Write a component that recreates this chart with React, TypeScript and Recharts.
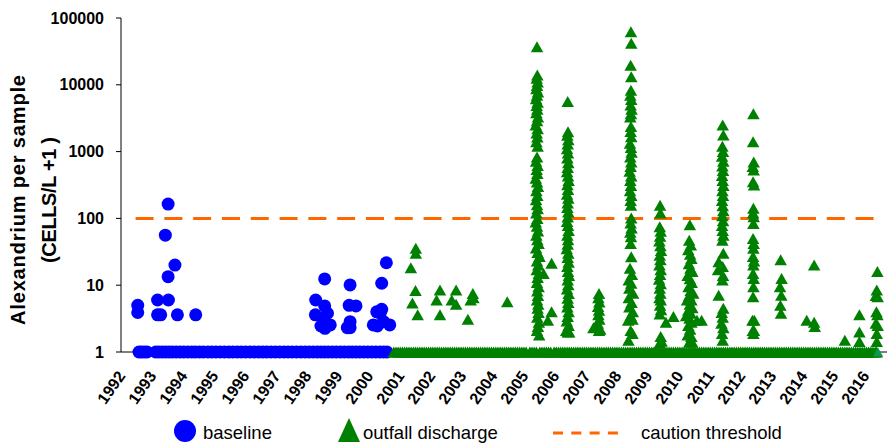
import React from 'react';
import { ScatterChart, Scatter, XAxis, YAxis, ReferenceLine } from 'recharts';

const FONT = '"Liberation Sans", Arial, Helvetica, sans-serif';
const BLUE = '#0000FF';
const GREEN = '#008000';
const TEAL = '#0A9A50';
const ORANGE = '#FF6600';

const yearTicks = [1992, 1993, 1994, 1995, 1996, 1997, 1998, 1999, 2000, 2001, 2002, 2003, 2004, 2005, 2006, 2007, 2008, 2009, 2010, 2011, 2012, 2013, 2014, 2015, 2016];
const valueTicks = [1, 10, 100, 1000, 10000, 100000];
const cautionThreshold = 100;
const cautionSpan = [1992.47, 2016.43];

// sampling dates with no cells detected (value 1 = 0 cells/L + 1)
const baselineZeroDates = [1992.58, 1992.66, 1992.75, 1992.84, 1993.12, 1993.22, 1993.33, 1993.44, 1993.55, 1993.66, 1993.78, 1993.9, 1994.02, 1994.15, 1994.28, 1994.4, 1994.53, 1994.66, 1994.8, 1994.93, 1995.06, 1995.2, 1995.34, 1995.48, 1995.61, 1995.75, 1995.88, 1996.02, 1996.16, 1996.3, 1996.44, 1996.57, 1996.7, 1996.84, 1996.98, 1997.12, 1997.26, 1997.39, 1997.52, 1997.66, 1997.8, 1997.94, 1998.07, 1998.2, 1998.33, 1998.45, 1998.57, 1998.69, 1998.82, 1998.95, 1999.08, 1999.21, 1999.34, 1999.46, 1999.58, 1999.7, 1999.83, 1999.96, 2000.09, 2000.22, 2000.35, 2000.47, 2000.58];

const baselineDetections: [number, number][] = [
  [1992.54, 5.0], [1992.54, 3.9], [1993.18, 6.0], [1993.53, 6.0], [1993.28, 3.6], [1993.18, 3.6], [1993.82, 3.6], [1994.41, 3.6],
  [1993.43, 56], [1993.52, 164], [1993.52, 13.4], [1993.74, 20],
  [1998.28, 6.0], [1998.57, 12.4], [1998.57, 4.9], [1998.27, 3.6], [1998.66, 3.8], [1998.53, 3.0], [1998.58, 2.26], [1998.75, 2.54], [1998.45, 2.45],
  [1999.39, 10.1], [1999.36, 5.0], [1999.58, 4.9], [1999.39, 2.84], [1999.3, 2.31], [1999.39, 2.31],
  [2000.41, 10.7], [2000.56, 21.7], [2000.25, 4.0], [2000.41, 4.36], [2000.36, 3.8], [2000.14, 2.54], [2000.27, 2.45], [2000.47, 2.84], [2000.67, 2.54],
];

const outfallZeroDates = [
  2000.8, 2000.87, 2000.94, 2001.01, 2001.08, 2001.15, 2001.22, 2001.29, 2001.36, 2001.43, 2001.5, 2001.57, 2001.64, 2001.71, 2001.78, 2001.85, 2001.92, 2001.99,
  2002.06, 2002.13, 2002.2, 2002.27, 2002.34, 2002.41, 2002.48, 2002.55, 2002.62, 2002.69, 2002.76, 2002.83, 2002.9, 2002.97,
  2003.04, 2003.11, 2003.18, 2003.25, 2003.32, 2003.39, 2003.46, 2003.53, 2003.6, 2003.67, 2003.74, 2003.81, 2003.88, 2003.95,
  2004.02, 2004.09, 2004.16, 2004.23, 2004.3, 2004.37, 2004.44, 2004.51, 2004.58, 2004.65, 2004.72, 2004.79, 2004.86, 2004.93,
  2005.0, 2005.07, 2005.19, 2005.26, 2005.33, 2005.4, 2005.51, 2005.58, 2005.65, 2005.72, 2005.79, 2005.86, 2005.97,
  2006.04, 2006.11, 2006.18, 2006.25, 2006.32, 2006.39, 2006.46, 2006.53, 2006.6, 2006.67, 2006.74, 2006.81, 2006.88, 2006.95,
  2007.02, 2007.09, 2007.16, 2007.23, 2007.3, 2007.37, 2007.44, 2007.51, 2007.58, 2007.65, 2007.72, 2007.79, 2007.86, 2007.93,
  2008.0, 2008.07, 2008.14, 2008.21, 2008.28, 2008.35, 2008.42, 2008.49, 2008.56, 2008.63, 2008.7, 2008.77, 2008.84, 2008.91, 2008.98,
  2009.05, 2009.12, 2009.19, 2009.26, 2009.33, 2009.4, 2009.47, 2009.54, 2009.61, 2009.68, 2009.75, 2009.82, 2009.89, 2009.96,
  2010.03, 2010.1, 2010.17, 2010.24, 2010.31, 2010.38, 2010.45, 2010.52, 2010.59, 2010.66, 2010.73, 2010.8, 2010.87, 2010.94,
  2011.01, 2011.08, 2011.15, 2011.22, 2011.29, 2011.36, 2011.43, 2011.5, 2011.57, 2011.64, 2011.71, 2011.78, 2011.85, 2011.92, 2011.99,
  2012.06, 2012.13, 2012.2, 2012.27, 2012.34, 2012.41, 2012.48, 2012.55, 2012.62, 2012.69, 2012.76, 2012.83, 2012.9, 2012.97,
  2013.04, 2013.11, 2013.18, 2013.25, 2013.32, 2013.39, 2013.46, 2013.53, 2013.6, 2013.67, 2013.74, 2013.81, 2013.88, 2013.95,
  2014.02, 2014.09, 2014.16, 2014.23, 2014.3, 2014.37, 2014.44, 2014.51, 2014.58, 2014.65, 2014.72, 2014.79, 2014.86, 2014.93,
  2015.0, 2015.07, 2015.14, 2015.21, 2015.28, 2015.35, 2015.42, 2015.49, 2015.56, 2015.63, 2015.7, 2015.77, 2015.84, 2015.91, 2015.98,
  2016.05, 2016.12, 2016.19, 2016.26, 2016.33, 2016.38,
];

const outfallEarly: [number, number][] = [
  [2001.51, 35.7], [2001.51, 30], [2001.35, 18.3], [2001.5, 8.3], [2001.4, 5.4], [2001.57, 3.6],
  [2002.29, 8.5], [2002.18, 6.0], [2002.29, 3.6], [2002.81, 8.5], [2002.67, 6.0], [2002.81, 5.2],
  [2003.19, 3.09], [2003.35, 7.5], [2003.28, 6.0], [2003.37, 6.5], [2004.46, 5.66],
];

const outfall2005: [number, number][] = [
  [2005.42, 37200], [2005.43, 14000], [2005.41, 12500], [2005.44, 11000], [2005.42, 9800], [2005.4, 8700], [2005.45, 7800], [2005.42, 7000], [2005.39, 6200], [2005.44, 5500], [2005.41, 4900], [2005.43, 4300], [2005.4, 3800], [2005.45, 3300], [2005.42, 2900], [2005.38, 2500], [2005.44, 2200], [2005.41, 1900], [2005.43, 1650], [2005.4, 1400], [2005.44, 1200],
  [2005.42, 830], [2005.39, 720], [2005.44, 620], [2005.41, 540], [2005.43, 470], [2005.38, 400], [2005.42, 350], [2005.45, 300], [2005.4, 260], [2005.43, 220], [2005.39, 190], [2005.42, 160], [2005.44, 140], [2005.4, 120], [2005.43, 100], [2005.38, 88], [2005.42, 76], [2005.45, 65], [2005.4, 56], [2005.43, 48], [2005.47, 42], [2005.39, 36], [2005.44, 31], [2005.5, 27], [2005.42, 23], [2005.46, 20], [2005.41, 17], [2005.48, 15], [2005.44, 13], [2005.42, 11], [2005.47, 9.5], [2005.43, 8.2], [2005.45, 7.0], [2005.42, 6.0], [2005.46, 5.2], [2005.44, 4.5], [2005.47, 3.9], [2005.43, 3.3], [2005.48, 2.8], [2005.45, 2.4], [2005.42, 2.1], [2005.49, 1.8],
  [2005.89, 21.3], [2005.63, 15], [2005.89, 4.0], [2005.77, 3.0],
];

const outfall2006: [number, number][] = [
  [2006.41, 5600], [2006.42, 1990], [2006.4, 1750], [2006.43, 1500], [2006.41, 1300], [2006.39, 1100], [2006.42, 950], [2006.4, 800], [2006.43, 680], [2006.41, 580], [2006.39, 500], [2006.42, 430], [2006.44, 370], [2006.4, 320], [2006.42, 270], [2006.39, 230], [2006.43, 200], [2006.41, 170], [2006.4, 145], [2006.43, 125], [2006.41, 105], [2006.39, 90], [2006.42, 78], [2006.44, 66], [2006.4, 56], [2006.42, 48], [2006.41, 41], [2006.38, 35], [2006.43, 30], [2006.41, 26], [2006.44, 22], [2006.4, 19], [2006.42, 16], [2006.45, 14], [2006.41, 12], [2006.43, 10.2], [2006.39, 8.8], [2006.44, 7.5], [2006.41, 6.4], [2006.43, 5.5], [2006.4, 4.7], [2006.44, 4.0], [2006.41, 3.4], [2006.38, 2.9], [2006.44, 2.5], [2006.36, 2.1], [2006.41, 2.0], [2006.46, 2.0],
];

const outfall2007: [number, number][] = [
  [2007.42, 7.5], [2007.4, 6.5], [2007.43, 5.6], [2007.39, 4.8], [2007.42, 4.2], [2007.4, 3.6], [2007.43, 3.1], [2007.38, 2.7], [2007.24, 2.3], [2007.42, 2.1], [2007.46, 2.2],
];

const outfall2008: [number, number][] = [
  [2008.45, 62000], [2008.46, 42000], [2008.44, 19700], [2008.46, 13200], [2008.45, 8300], [2008.43, 7000], [2008.46, 6000], [2008.44, 5000], [2008.47, 4300], [2008.45, 3700], [2008.43, 3300], [2008.45, 2370], [2008.44, 2000], [2008.46, 1670], [2008.42, 1330], [2008.45, 1150], [2008.47, 980], [2008.43, 830], [2008.46, 700], [2008.44, 600], [2008.41, 510], [2008.46, 430], [2008.43, 370], [2008.45, 310], [2008.42, 260], [2008.46, 220], [2008.44, 185], [2008.45, 158],
  [2008.46, 101], [2008.44, 85], [2008.47, 72], [2008.43, 62], [2008.45, 53], [2008.44, 42], [2008.46, 26.7], [2008.42, 18], [2008.48, 14.5], [2008.38, 12], [2008.46, 10.7], [2008.4, 9.0], [2008.52, 7.6], [2008.38, 6.5], [2008.47, 5.5], [2008.4, 4.7], [2008.51, 4.0], [2008.44, 3.5], [2008.36, 3.0], [2008.5, 3.1], [2008.44, 2.1], [2008.37, 1.5], [2008.5, 1.9],
];

const outfall2009: [number, number][] = [
  [2009.39, 158], [2009.4, 120], [2009.38, 75], [2009.41, 64], [2009.39, 54], [2009.37, 46], [2009.4, 39], [2009.42, 33], [2009.38, 28], [2009.4, 24], [2009.37, 20], [2009.41, 17], [2009.39, 14.5], [2009.36, 12.3], [2009.41, 10.5], [2009.38, 9.0], [2009.4, 7.6], [2009.37, 6.5], [2009.41, 6.0], [2009.39, 5.0], [2009.42, 4.3], [2009.38, 3.7], [2009.82, 3.4], [2009.58, 2.8], [2009.41, 1.7], [2009.38, 1.36], [2009.44, 1.45],
];

const outfall2010: [number, number][] = [
  [2010.35, 80], [2010.33, 47], [2010.38, 40], [2010.3, 34], [2010.36, 29], [2010.4, 25], [2010.32, 21], [2010.37, 18], [2010.43, 16], [2010.28, 14], [2010.35, 12.5], [2010.41, 11], [2010.31, 9.5], [2010.38, 8.3], [2010.46, 7.6], [2010.33, 7.0], [2010.26, 6.0], [2010.4, 6.0], [2010.35, 5.2], [2010.43, 4.6], [2010.3, 4.2], [2010.38, 3.8], [2010.23, 3.5], [2010.34, 3.2], [2010.73, 3.0], [2010.4, 2.8], [2010.3, 2.5], [2010.36, 2.2], [2010.28, 1.8], [2010.4, 1.7], [2010.33, 1.4], [2010.43, 1.4], [2010.58, 3.0],
];

const outfall2011: [number, number][] = [
  [2011.41, 2500], [2011.43, 1770], [2011.4, 1200], [2011.42, 1000], [2011.39, 850], [2011.43, 720], [2011.4, 610], [2011.42, 520], [2011.39, 440], [2011.41, 370], [2011.43, 310], [2011.4, 260], [2011.42, 220], [2011.39, 185], [2011.41, 155], [2011.43, 130], [2011.4, 110], [2011.42, 92], [2011.39, 78], [2011.41, 66], [2011.43, 56], [2011.4, 47],
  [2011.43, 30], [2011.28, 22.4], [2011.26, 17], [2011.41, 19], [2011.42, 14], [2011.4, 12], [2011.28, 7.1], [2011.43, 4.5], [2011.38, 3.9], [2011.41, 3.3], [2011.37, 2.7], [2011.43, 2.3], [2011.39, 1.9], [2011.41, 1.5],
];

const outfall2012: [number, number][] = [
  [2012.4, 3700], [2012.39, 1400], [2012.41, 700], [2012.38, 600], [2012.41, 530], [2012.39, 355], [2012.42, 315], [2012.4, 142], [2012.39, 120], [2012.41, 106], [2012.4, 84], [2012.39, 50], [2012.41, 42], [2012.4, 35.6], [2012.39, 27], [2012.42, 23], [2012.4, 20], [2012.39, 15], [2012.41, 12.6], [2012.4, 9.5], [2012.39, 6.7], [2012.37, 3.0], [2012.43, 3.0], [2012.38, 2.1], [2012.42, 2.1], [2012.4, 1.9],
];

const outfall2013to2016: [number, number][] = [
  [2013.28, 24], [2013.31, 12.6], [2013.26, 9.5], [2013.3, 7.1], [2013.27, 5.0], [2013.29, 3.8],
  [2014.12, 3.0], [2014.36, 20], [2014.36, 2.8], [2014.38, 2.4],
  [2015.35, 1.5], [2015.82, 3.6], [2015.82, 2.0], [2015.82, 1.43],
  [2016.4, 16], [2016.38, 8.5], [2016.35, 7.0], [2016.41, 6.7], [2016.37, 4.0], [2016.4, 3.6], [2016.35, 2.7], [2016.41, 2.5], [2016.38, 1.9], [2016.38, 1.43],
];

const lastSample: [number, number][] = [[2016.42, 1]];

const toRows = (pairs: [number, number][]) => pairs.map(([t, v]) => ({ t, v }));

const baselineData = [...baselineZeroDates.map((t) => ({ t, v: 1 })), ...toRows(baselineDetections)];
const outfallData = [
  ...outfallZeroDates.map((t) => ({ t, v: 1 })),
  ...toRows(outfallEarly),
  ...toRows(outfall2005),
  ...toRows(outfall2006),
  ...toRows(outfall2007),
  ...toRows(outfall2008),
  ...toRows(outfall2009),
  ...toRows(outfall2010),
  ...toRows(outfall2011),
  ...toRows(outfall2012),
  ...toRows(outfall2013to2016),
];
const lastData = toRows(lastSample);

const CircleMark = (props: any) => {
  const { cx, cy } = props;
  if (cx == null || cy == null) return <g />;
  return <circle cx={cx} cy={cy} r={6.5} fill={BLUE} />;
};

const makeTriangle = (color: string, w: number, h: number) => (props: any) => {
  const { cx, cy } = props;
  if (cx == null || cy == null) return <g />;
  const pts = `${cx},${cy - h / 2} ${cx - w / 2},${cy + h / 2} ${cx + w / 2},${cy + h / 2}`;
  return <polygon points={pts} fill={color} />;
};
const GreenTriangle = makeTriangle(GREEN, 12.5, 11);
const TealTriangle = makeTriangle(TEAL, 10, 9);

const XTick = (props: any) => {
  const { x, y, payload } = props;
  return (
    <text
      x={0}
      y={0}
      transform={`translate(${x + 5},${y + 24}) rotate(-55)`}
      textAnchor="end"
      fontSize={16}
      fontWeight="bold"
      fontFamily={FONT}
      fill="#000"
    >
      {payload.value}
    </text>
  );
};

export default function App() {
  return (
    <div style={{ position: 'absolute', left: 0, top: 0, width: 888, height: 445, background: '#fff', fontFamily: FONT }}>
      <ScatterChart width={888} height={445} margin={{ top: 18, right: 1, bottom: 0, left: 0 }}>
        <XAxis
          type="number"
          dataKey="t"
          domain={[1992, 2016.71]}
          ticks={yearTicks}
          tickLine={false}
          tickSize={0}
          tickMargin={0}
          height={93}
          axisLine={{ stroke: '#000', strokeWidth: 1 }}
          tick={<XTick />}
          interval={0}
        />
        <YAxis
          type="number"
          dataKey="v"
          scale="log"
          domain={[1, 100000]}
          ticks={valueTicks}
          width={121}
          tickSize={5}
          tickMargin={12}
          interval={0}
          tickFormatter={(v: number) => String(v)}
          tick={{ fontSize: 16, fontWeight: 'bold', fill: '#000', fontFamily: FONT }}
          axisLine={{ stroke: '#000', strokeWidth: 1 }}
          tickLine={{ stroke: '#000', strokeWidth: 1 }}
        />
        <Scatter name="baseline" data={baselineData} dataKey="v" fill={BLUE} shape={CircleMark} isAnimationActive={false} />
        <Scatter name="outfall discharge" data={outfallData} dataKey="v" fill={GREEN} shape={GreenTriangle} isAnimationActive={false} />
        <Scatter name="last sample" data={lastData} dataKey="v" fill={TEAL} shape={TealTriangle} isAnimationActive={false} legendType="none" />
        <ReferenceLine
          segment={[{ x: cautionSpan[0], y: cautionThreshold }, { x: cautionSpan[1], y: cautionThreshold }]}
          stroke={ORANGE}
          strokeWidth={3}
          strokeDasharray="18 10.8"
          ifOverflow="visible"
        />
      </ScatterChart>
      <svg width={888} height={445} style={{ position: 'absolute', left: 0, top: 0, pointerEvents: 'none' }}>
        <text
          transform="translate(25,200) rotate(-90)"
          textAnchor="middle"
          fontSize={20}
          fontWeight="bold"
          fontFamily={FONT}
          fill="#000"
          textLength={250}
          lengthAdjust="spacing"
        >
          Alexandrium per sample
        </text>
        <text
          transform="translate(56,200) rotate(-90)"
          textAnchor="middle"
          fontSize={20}
          fontWeight="bold"
          fontFamily={FONT}
          fill="#000"
          textLength={126}
          lengthAdjust="spacing"
        >
          (CELLS/L +1 )
        </text>
        <circle cx={185} cy={431} r={11} fill={BLUE} />
        <text x={203} y={439} fontSize={18.5} fontFamily={FONT} fill="#000">baseline</text>
        <polygon points="349,418 338,442 360,442" fill={GREEN} />
        <text x={363} y={439} fontSize={18.5} fontFamily={FONT} fill="#000">outfall discharge</text>
        <line x1={553} y1={433} x2={618} y2={433} stroke={ORANGE} strokeWidth={3} strokeDasharray="10 8.3" />
        <text x={641} y={439} fontSize={18.5} fontFamily={FONT} fill="#000">caution threshold</text>
      </svg>
    </div>
  );
}
